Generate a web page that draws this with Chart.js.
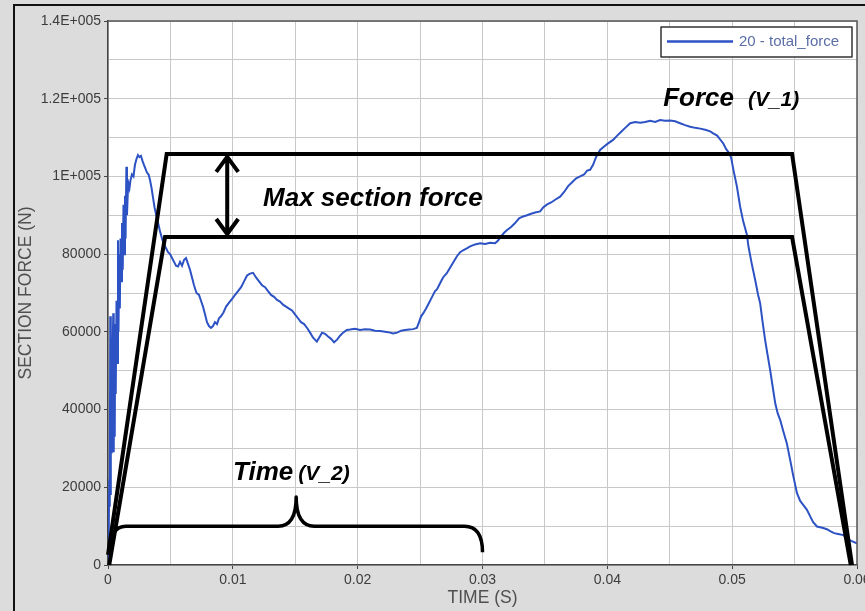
<!DOCTYPE html>
<html>
<head>
<meta charset="utf-8">
<title>Section force vs time</title>
<script src="https://cdn.jsdelivr.net/npm/chart.js@4.4.1/dist/chart.umd.min.js"></script>
<style>
  html, body { margin: 0; padding: 0; background: #dcdcdc; overflow: hidden; }
  canvas { display: block; }
</style>
</head>
<body>
<canvas id="chart" width="865" height="611"></canvas>
<script>
// Section force history: time in seconds, force in newtons
const TIME = [
  0.00000, 0.00003, 0.00006, 0.00010, 0.00014, 0.00018, 0.00021, 0.00024, 0.00027, 0.00030,
  0.00034, 0.00038, 0.00042, 0.00046, 0.00050, 0.00054, 0.00058, 0.00062, 0.00068, 0.00074,
  0.00080, 0.00084, 0.00090, 0.00095, 0.00100, 0.00106, 0.00112, 0.00118, 0.00124, 0.00130,
  0.00136, 0.00141, 0.00147, 0.00152, 0.00159, 0.00165, 0.00172, 0.00180, 0.00192, 0.00204,
  0.00216, 0.00228, 0.00240, 0.00252, 0.00264, 0.00276, 0.00288, 0.00300, 0.00312, 0.00325,
  0.00337, 0.00349, 0.00361, 0.00373, 0.00389, 0.00405, 0.00417, 0.00433, 0.00449, 0.00465,
  0.00481, 0.00497, 0.00513, 0.00529, 0.00545, 0.00561, 0.00577, 0.00593, 0.00609, 0.00625,
  0.00641, 0.00657, 0.00673, 0.00689, 0.00709, 0.00729, 0.00745, 0.00761, 0.00777, 0.00793,
  0.00809, 0.00825, 0.00841, 0.00857, 0.00873, 0.00889, 0.00905, 0.00925, 0.00946, 0.00970,
  0.00994, 0.01018, 0.01042, 0.01066, 0.01090, 0.01114, 0.01138, 0.01162, 0.01186, 0.01210,
  0.01234, 0.01258, 0.01282, 0.01306, 0.01330, 0.01354, 0.01378, 0.01402, 0.01426, 0.01450,
  0.01474, 0.01498, 0.01522, 0.01546, 0.01571, 0.01595, 0.01619, 0.01643, 0.01673, 0.01691,
  0.01715, 0.01739, 0.01763, 0.01787, 0.01811, 0.01835, 0.01859, 0.01883, 0.01913, 0.01939,
  0.01979, 0.02019, 0.02059, 0.02099, 0.02139, 0.02179, 0.02220, 0.02260, 0.02284, 0.02316,
  0.02348, 0.02380, 0.02412, 0.02444, 0.02474, 0.02492, 0.02508, 0.02526, 0.02548, 0.02572,
  0.02596, 0.02620, 0.02636, 0.02660, 0.02684, 0.02714, 0.02740, 0.02764, 0.02794, 0.02821,
  0.02845, 0.02874, 0.02901, 0.02941, 0.02981, 0.03021, 0.03061, 0.03101, 0.03125, 0.03149,
  0.03173, 0.03197, 0.03229, 0.03261, 0.03293, 0.03325, 0.03357, 0.03389, 0.03421, 0.03462,
  0.03486, 0.03518, 0.03550, 0.03582, 0.03622, 0.03654, 0.03686, 0.03718, 0.03750, 0.03782,
  0.03814, 0.03838, 0.03862, 0.03886, 0.03910, 0.03942, 0.03974, 0.04006, 0.04046, 0.04079,
  0.04111, 0.04143, 0.04183, 0.04223, 0.04263, 0.04303, 0.04343, 0.04383, 0.04423, 0.04463,
  0.04503, 0.04543, 0.04583, 0.04623, 0.04663, 0.04704, 0.04744, 0.04784, 0.04824, 0.04848,
  0.04880, 0.04904, 0.04928, 0.04952, 0.04976, 0.04992, 0.05010, 0.05038, 0.05064, 0.05088,
  0.05118, 0.05131, 0.05157, 0.05184, 0.05208, 0.05224, 0.05244, 0.05264, 0.05284, 0.05304,
  0.05324, 0.05345, 0.05365, 0.05385, 0.05409, 0.05438, 0.05465, 0.05489, 0.05519, 0.05545,
  0.05569, 0.05599, 0.05625, 0.05649, 0.05679, 0.05705, 0.05729, 0.05759, 0.05785, 0.05817,
  0.05849, 0.05891, 0.05921, 0.05953, 0.05999
];
const FORCE = [
  0, 9000, 4000, 22000, 15000, 64000, 18000, 38000, 29000, 45000,
  31000, 57000, 64800, 29000, 52000, 33000, 62000, 44000, 68000, 52000,
  83600, 60000, 80000, 66000, 84000, 73000, 88000, 76000, 92700, 80000,
  95000, 84000, 102500, 90000, 96000, 98000, 97000, 99000, 100500, 100000,
  103000, 104500, 105500, 105000, 105300, 104000, 103000, 102000, 101000, 100500,
  99000, 97000, 94500, 92000, 89700, 87500, 85800, 84000, 82500, 81500,
  80500, 80000, 79000, 78000, 77000, 76800, 78000, 77000, 78500, 79000,
  77500, 76000, 74000, 72000, 70000, 69500, 68000, 66500, 64500, 62500,
  61500, 61000, 61500, 62500, 62000, 63500, 64000, 65000, 66500, 67500,
  68500, 69500, 70500, 71500, 73000, 74500, 75000, 75200, 74000, 73000,
  72000, 71500, 70500, 69500, 69000, 68200, 67800, 67000, 66500, 66000,
  65500, 64500, 63500, 62500, 62000, 61000, 59800, 58500, 57500, 58500,
  59800, 59500, 58800, 58200, 57300, 58000, 59000, 59800, 60500, 60600,
  60800, 60500, 60700, 60600, 60300, 60200, 60000, 59800, 59600, 59800,
  60300, 60500, 60600, 60700, 61000, 62500, 64000, 64800, 66000, 67500,
  69000, 70500, 71000, 72500, 74000, 75100, 76500, 77800, 79400, 80500,
  81000, 81500, 82000, 82500, 82800, 82600, 82900, 82800, 83500, 84600,
  85500, 86200, 87000, 88000, 89200, 89700, 90000, 90400, 90700, 91000,
  92000, 92800, 93300, 94000, 94800, 96000, 97500, 98500, 99500, 100000,
  100500, 101500, 101700, 103000, 105000, 106800, 107700, 108500, 109400, 110500,
  111500, 112500, 113700, 114000, 113800, 114000, 114300, 114000, 114500, 114300,
  114400, 114200, 113700, 113200, 112800, 112500, 112300, 112000, 111600, 111100,
  110500, 109500, 108500, 107000, 106000, 104800, 101700, 97400, 92200, 88500,
  85000, 81900, 77500, 73400, 69500, 67400, 62500, 57900, 54000, 50200,
  46000, 41600, 39000, 37300, 34500, 31300, 27000, 23000, 18500, 16500,
  15500, 14200, 12500, 11000, 9900, 9700, 9500, 9200, 8700, 8200,
  8000, 7700, 6800, 6200, 5600
];
const SERIES_NAME = '20 - total_force';

// Axis labels
const X_TICK_LABELS = ['0', '0.01', '0.02', '0.03', '0.04', '0.05', '0.06'];
const Y_TICK_VALUES = [0, 20000, 40000, 60000, 80000, 100000, 120000, 140000];
const Y_TICK_LABELS = ['0', '20000', '40000', '60000', '80000', '1E+005', '1.2E+005', '1.4E+005'];
const X_TITLE = 'TIME (S)';
const Y_TITLE = 'SECTION FORCE (N)';

// Idealised force envelope levels (N) and its time span (s)
const MAX_FORCE_UPPER = 105800;
const MAX_FORCE_LOWER = 84400;
const ENVELOPE_OUTER = [[0.0, 2600], [0.0047, MAX_FORCE_UPPER], [0.0548, MAX_FORCE_UPPER], [0.0596, 0]];
const ENVELOPE_INNER = [[0.0001, 0], [0.00457, MAX_FORCE_LOWER], [0.0548, MAX_FORCE_LOWER], [0.0595, 0]];
const TIME_SPAN = [0.00015, 0.03];

const FONT = '"Liberation Sans", Arial, sans-serif';
const CURVE_COLOR = '#2d52c4';

// Page background, outer frame and plot-area fill
const backdrop = {
  id: 'backdrop',
  beforeDraw(chart) {
    const { ctx, width, height, chartArea: a } = chart;
    ctx.save();
    ctx.fillStyle = '#dcdcdc';
    ctx.fillRect(0, 0, width, height);
    ctx.fillStyle = '#ffffff';
    ctx.fillRect(a.left, a.top, a.right - a.left, a.bottom - a.top);
    ctx.strokeStyle = '#111';
    ctx.lineWidth = 2;
    ctx.beginPath();
    ctx.moveTo(14, height);
    ctx.lineTo(14, 5);
    ctx.lineTo(width, 5);
    ctx.stroke();
    ctx.restore();
  }
};

// Envelope, brace, arrow, captions and legend box
const overlay = {
  id: 'overlay',
  afterDraw(chart) {
    const { ctx, chartArea: a } = chart;
    const xs = chart.scales.x, ys = chart.scales.y;
    const px = t => xs.getPixelForValue(t);
    const py = f => ys.getPixelForValue(f);
    ctx.save();

    // plot frame (top and right)
    ctx.strokeStyle = '#555';
    ctx.lineWidth = 1.5;
    ctx.beginPath();
    ctx.moveTo(a.left, a.top);
    ctx.lineTo(a.right, a.top);
    ctx.lineTo(a.right, a.bottom);
    ctx.stroke();

    // envelope trapezoids
    ctx.strokeStyle = '#000';
    ctx.lineWidth = 4;
    ctx.lineJoin = 'miter';
    ctx.lineCap = 'butt';
    for (const shape of [ENVELOPE_OUTER, ENVELOPE_INNER]) {
      ctx.beginPath();
      shape.forEach(([t, f], i) => i ? ctx.lineTo(px(t), py(f)) : ctx.moveTo(px(t), py(f)));
      ctx.stroke();
    }

    // double arrow between the two force levels
    const ax = px(0.00955), ay1 = py(MAX_FORCE_UPPER) + 2, ay2 = py(MAX_FORCE_LOWER) - 2;
    ctx.lineWidth = 4;
    ctx.beginPath();
    ctx.moveTo(ax, ay1); ctx.lineTo(ax, ay2);
    ctx.moveTo(ax - 11, ay1 + 16); ctx.lineTo(ax, ay1 + 1); ctx.lineTo(ax + 11, ay1 + 16);
    ctx.moveTo(ax - 11, ay2 - 16); ctx.lineTo(ax, ay2 - 1); ctx.lineTo(ax + 11, ay2 - 16);
    ctx.stroke();

    // curly brace over the time span
    const bx0 = px(TIME_SPAN[0]), bx1 = px(TIME_SPAN[1]);
    const bm = (bx0 + bx1) / 2;
    const yEnd = py(3300), yBar = py(10000), yTip = py(17500);
    ctx.lineWidth = 3.5;
    ctx.lineJoin = 'round';
    ctx.beginPath();
    ctx.moveTo(bx0, yEnd);
    ctx.quadraticCurveTo(bx0, yBar, bx0 + 16, yBar);
    ctx.lineTo(bm - 18, yBar);
    ctx.quadraticCurveTo(bm, yBar, bm, yTip);
    ctx.quadraticCurveTo(bm, yBar, bm + 18, yBar);
    ctx.lineTo(bx1 - 18, yBar);
    ctx.quadraticCurveTo(bx1, yBar, bx1, yEnd);
    ctx.stroke();

    // captions
    ctx.fillStyle = '#000';
    ctx.textBaseline = 'alphabetic';
    ctx.textAlign = 'left';
    const caption = (main, sub, t, f, gap) => {
      ctx.font = `italic bold 26px ${FONT}`;
      const x = px(t), y = py(f);
      ctx.fillText(main, x, y);
      if (sub) {
        const w = ctx.measureText(main).width;
        ctx.font = `italic bold 21px ${FONT}`;
        ctx.fillText(sub, x + w + gap, y);
      }
    };
    caption('Max section force', null, 0.01242, 92300, 0);
    caption('Force', '(V_1)', 0.04447, 118100, 14);
    caption('Time', '(V_2)', 0.01002, 21900, 5);

    // legend box
    const lx = a.right - 196, ly = a.top + 6, lw = 191, lh = 30;
    ctx.fillStyle = '#ffffff';
    ctx.fillRect(lx, ly, lw, lh);
    ctx.strokeStyle = '#333';
    ctx.lineWidth = 1.5;
    ctx.strokeRect(lx, ly, lw, lh);
    ctx.strokeStyle = CURVE_COLOR;
    ctx.lineWidth = 2.5;
    ctx.beginPath();
    ctx.moveTo(lx + 6, ly + 14.5);
    ctx.lineTo(lx + 72, ly + 14.5);
    ctx.stroke();
    ctx.fillStyle = '#5a6ea6';
    ctx.font = `15px ${FONT}`;
    ctx.textBaseline = 'middle';
    ctx.fillText(SERIES_NAME, lx + 78, ly + 15);

    ctx.restore();
  }
};

const points = TIME.map((t, i) => ({ x: t, y: FORCE[i] }));

new Chart(document.getElementById('chart'), {
  type: 'line',
  data: {
    datasets: [{
      label: SERIES_NAME,
      data: points,
      borderColor: CURVE_COLOR,
      borderWidth: 2,
      pointRadius: 0,
      tension: 0,
      fill: false
    }]
  },
  options: {
    responsive: false,
    devicePixelRatio: 1,
    animation: false,
    parsing: false,
    normalized: true,
    layout: { padding: { left: 0, right: 8, top: 21, bottom: 0 } },
    plugins: {
      legend: { display: false },
      tooltip: { enabled: false }
    },
    scales: {
      x: {
        type: 'linear',
        min: 0,
        max: 0.06,
        afterFit(scale) { scale.height = 46; scale.paddingLeft = 0; scale.paddingRight = 0; },
        ticks: {
          stepSize: 0.005,
          autoSkip: false,
          maxRotation: 0,
          padding: 3,
          color: '#3c3c3c',
          font: { family: FONT, size: 14 },
          callback(v) {
            const ms = Math.round(v * 1000);
            return ms % 10 === 0 ? X_TICK_LABELS[ms / 10] : '';
          }
        },
        grid: {
          color: '#c8c8c8',
          lineWidth: 1,
          tickLength: 4,
          tickColor: ctx => (Math.round(ctx.tick.value * 1000) % 10 === 0 ? '#444' : 'rgba(0,0,0,0)')
        },
        border: { color: '#444', width: 1.5 },
        title: {
          display: true,
          text: X_TITLE,
          color: '#505050',
          font: { family: FONT, size: 17.5 },
          padding: { top: 0, bottom: 2 }
        }
      },
      y: {
        type: 'linear',
        min: 0,
        max: 140000,
        afterFit(scale) { scale.width = 108; scale.paddingTop = 0; scale.paddingBottom = 0; },
        ticks: {
          stepSize: 10000,
          autoSkip: false,
          padding: 3,
          color: '#3c3c3c',
          font: { family: FONT, size: 14 },
          callback(v) {
            const i = Y_TICK_VALUES.indexOf(v);
            return i >= 0 ? Y_TICK_LABELS[i] : '';
          }
        },
        grid: {
          color: '#c8c8c8',
          lineWidth: 1,
          tickLength: 4,
          tickColor: ctx => (ctx.tick.value % 20000 === 0 ? '#444' : 'rgba(0,0,0,0)')
        },
        border: { color: '#444', width: 1.5 },
        title: {
          display: true,
          text: Y_TITLE,
          color: '#505050',
          font: { family: FONT, size: 17.5 },
          padding: { top: 16, bottom: 0 }
        }
      }
    }
  },
  plugins: [backdrop, overlay]
});
</script>
</body>
</html>
